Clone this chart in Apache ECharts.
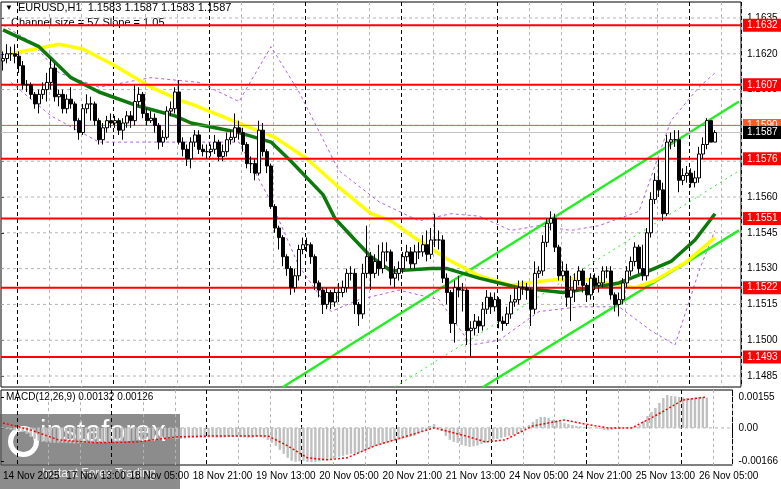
<!DOCTYPE html>
<html><head><meta charset="utf-8">
<script src="https://cdn.jsdelivr.net/npm/echarts@6/dist/echarts.min.js"></script>
<style>html,body{margin:0;padding:0;background:#fff}#c{width:781px;height:489px}</style>
</head><body><div id="c"></div>
<script>
const timeLabels=['14 Nov 2025','17 Nov 13:00','18 Nov 05:00','18 Nov 21:00','19 Nov 13:00','20 Nov 05:00','20 Nov 21:00','21 Nov 13:00','24 Nov 05:00','24 Nov 21:00','25 Nov 13:00','26 Nov 05:00'];
const priceTicks=[1.1485,1.1500,1.1515,1.1530,1.1545,1.1560,1.1575,1.1590,1.1605,1.1620,1.1635];
const macdTicks=[-0.00166,0,0.00155];
const firstOpen=1.1617;
const closes=[1.1618,1.1620,1.1620,1.1619,1.1615,1.1607,1.1607,1.1603,1.1599,1.1603,1.1605,1.1608,1.1614,1.1602,1.1603,1.1597,1.1601,1.1599,1.1592,1.1587,1.1597,1.1599,1.1599,1.1592,1.1584,1.1589,1.1592,1.1591,1.1592,1.1588,1.1591,1.1594,1.1592,1.1600,1.1603,1.1595,1.1592,1.1593,1.1590,1.1583,1.1585,1.1596,1.1597,1.1604,1.1583,1.1580,1.1576,1.1583,1.1586,1.1580,
1.1579,1.1579,1.1580,1.1583,1.1577,1.1579,1.1584,1.1585,1.1589,1.1587,1.1582,1.1574,1.1574,1.1570,1.1588,1.1579,1.1573,1.1556,1.1547,1.1543,1.1535,1.1530,1.1522,1.1527,1.1538,1.1540,1.1540,1.1535,1.1524,1.1521,1.1515,1.1520,1.1516,1.1520,1.1520,1.1522,1.1528,1.1528,1.1515,1.1511,1.1528,1.1535,1.1528,1.1533,1.1530,1.1537,1.1537,
1.1526,1.1528,1.1530,1.1535,1.1537,1.1532,1.1537,1.1537,1.1540,1.1536,1.1542,1.1542,1.1542,1.1526,1.1520,1.1507,1.1522,1.1521,1.1521,1.1504,1.1505,1.1508,1.1506,1.1513,1.1518,1.1514,1.1517,1.1508,1.1507,1.1511,1.1516,1.1517,1.1522,1.1522,1.1521,1.1513,1.1528,1.1529,1.1541,1.1549,1.1551,1.1539,1.1527,1.1529,1.1518,1.1521,1.1525,1.1529,
1.1523,1.1519,1.1526,1.1523,1.1524,1.1529,1.1529,1.1519,1.1515,1.1517,1.1524,1.1529,1.1533,1.1539,1.1530,1.1527,1.1545,1.1559,1.1567,1.1563,1.1553,1.1583,1.1584,1.1584,1.1567,1.1569,1.1570,1.1566,1.1568,1.1578,1.1582,1.1592,1.1583,1.1587];
const highs=[1.1621,1.1624,1.1623,1.1624,1.1621,1.1617,1.1609,1.1608,1.1604,1.1605,1.1608,1.1612,1.1618,1.1616,1.1605,1.1605,1.1603,1.1606,1.1600,1.1593,1.1599,1.1603,1.1602,1.1600,1.1593,1.1591,1.1594,1.1595,1.1594,1.1593,1.1593,1.1596,1.1596,1.1607,1.1606,1.1604,1.1597,1.1596,1.1595,1.1591,1.1588,1.1598,1.1600,1.1606,1.1609,1.1585,1.1582,1.1585,1.1588,1.1588,
1.1582,1.1582,1.1582,1.1586,1.1584,1.1582,1.1587,1.1588,1.1595,1.1592,1.1589,1.1583,1.1577,1.1576,1.1592,1.1591,1.1580,1.1574,1.1557,1.1548,1.1544,1.1536,1.1531,1.1530,1.1540,1.1543,1.1543,1.1541,1.1536,1.1525,1.1522,1.1522,1.1521,1.1522,1.1524,1.1525,1.1530,1.1531,1.1530,1.1516,1.1532,1.1548,1.1537,1.1536,1.1540,1.1541,1.1541,
1.1538,1.1531,1.1533,1.1537,1.1540,1.1539,1.1540,1.1541,1.1544,1.1546,1.1547,1.1553,1.1546,1.1544,1.1528,1.1521,1.1525,1.1527,1.1524,1.1522,1.1508,1.1511,1.1510,1.1516,1.1521,1.1520,1.1520,1.1518,1.1510,1.1514,1.1519,1.1522,1.1525,1.1525,1.1524,1.1522,1.1533,1.1531,1.1544,1.1551,1.1554,1.1553,1.1540,1.1533,1.1532,1.1527,1.1528,1.1531,
1.1530,1.1524,1.1528,1.1528,1.1527,1.1531,1.1531,1.1531,1.1520,1.1520,1.1526,1.1531,1.1535,1.1541,1.1540,1.1540,1.1547,1.1562,1.1570,1.1576,1.1566,1.1586,1.1587,1.1588,1.1588,1.1572,1.1573,1.1572,1.1571,1.1581,1.1585,1.1593,1.1592,1.1588];
const lows=[1.1613,1.1616,1.1617,1.1616,1.1612,1.1605,1.1604,1.1601,1.1597,1.1595,1.1601,1.1600,1.1605,1.1600,1.1598,1.1595,1.1595,1.1597,1.1588,1.1584,1.1586,1.1595,1.1592,1.1590,1.1582,1.1582,1.1587,1.1589,1.1589,1.1586,1.1584,1.1589,1.1589,1.1590,1.1598,1.1593,1.1590,1.1591,1.1587,1.1580,1.1581,1.1584,1.1594,1.1595,1.1582,1.1577,1.1573,1.1572,1.1581,1.1578,
1.1577,1.1576,1.1577,1.1578,1.1575,1.1575,1.1577,1.1582,1.1583,1.1584,1.1579,1.1572,1.1570,1.1567,1.1569,1.1577,1.1570,1.1555,1.1545,1.1538,1.1531,1.1527,1.1519,1.1520,1.1525,1.1536,1.1537,1.1532,1.1521,1.1518,1.1511,1.1513,1.1513,1.1514,1.1516,1.1518,1.1520,1.1525,1.1511,1.1506,1.1509,1.1526,1.1521,1.1526,1.1527,1.1528,1.1533,
1.1523,1.1522,1.1525,1.1528,1.1533,1.1530,1.1530,1.1534,1.1535,1.1533,1.1534,1.1539,1.1538,1.1524,1.1515,1.1503,1.1499,1.1518,1.1512,1.1498,1.1493,1.1502,1.1503,1.1504,1.1511,1.1511,1.1512,1.1505,1.1504,1.1506,1.1509,1.1514,1.1515,1.1519,1.1517,1.1506,1.1511,1.1526,1.1527,1.1539,1.1546,1.1537,1.1525,1.1525,1.1514,1.1508,1.1516,1.1523,
1.1520,1.1516,1.1517,1.1521,1.1520,1.1522,1.1526,1.1517,1.1512,1.1510,1.1515,1.1522,1.1527,1.1531,1.1528,1.1525,1.1525,1.1543,1.1557,1.1560,1.1550,1.1552,1.1580,1.1581,1.1562,1.1565,1.1566,1.1564,1.1564,1.1566,1.1576,1.1580,1.1583,1.1583];
const maGreen=[[0,1.1630],[9,1.1623],[17,1.1610],[24,1.1604],[34,1.1598],[43,1.1594],[47,1.1591],[59,1.1587],[67,1.1583],[72,1.1575],[80,1.1561],[83,1.1551],[88,1.1542],[92,1.1535],[97,1.1529],[107,1.1530],[111,1.1530],[119,1.1526],[129,1.1522],[140,1.1520],[144,1.1521],[154,1.1524],[160,1.1528],[167,1.1533],[173,1.1542],[178,1.1553]];
const maYellow=[[2,1.1620],[14,1.1624],[20,1.1622],[28,1.1615],[37,1.1606],[45,1.1600],[47,1.1599],[59,1.1591],[68,1.1585],[76,1.1576],[84,1.1564],[92,1.1553],[97,1.1550],[102,1.1544],[111,1.1534],[119,1.1527],[127,1.1523],[136,1.1525],[144,1.1526],[158,1.1522],[163,1.1525],[171,1.1533],[178,1.1543]];
const bandUpper=[[0,1.1632],[7,1.1625],[14,1.1612],[24,1.1606],[37,1.1610],[49,1.1608],[59,1.1600],[67,1.1623],[74,1.1604],[84,1.1571],[94,1.1558],[104,1.1550],[112,1.1553],[119,1.1552],[127,1.1546],[134,1.1548],[142,1.1546],[149,1.1548],[159,1.1554],[167,1.1592],[174,1.1606],[178,1.1612]];
const bandLower=[[2,1.1608],[12,1.1594],[24,1.1583],[37,1.1583],[49,1.1583],[59,1.1583],[67,1.1558],[74,1.1531],[82,1.1512],[89,1.1517],[99,1.1521],[109,1.1517],[117,1.1498],[124,1.1500],[134,1.1512],[144,1.1514],[154,1.1514],[162,1.1504],[168,1.1498],[174,1.1529],[178,1.1546]];
const channelUpper=[[70,1.14804],[184,1.1600]];
const channelMiddle=[[98,1.14804],[184,1.1571]];
const channelLower=[[120,1.14804],[184,1.1546]];
const levels=[1.1632,1.1607,1.1576,1.1551,1.1522,1.1493];
const lastHigh=1.1590, lastPrice=1.1587;
const macdHist=[-2,-5,-8,-12,-15,-20,-30,-45,-55,-65,-70,-72,-74,-75,-76,-75,-76,-77,-78,-77,-76,-75,-76,-75,-74,-75,-74,-73,-72,-72,-70,-68,-66,-64,-62,-60,-58,-60,-62,-60,-58,-56,-55,-54,-56,-55,-54,-52,-50,-50,-50,-50,-48,-48,-50,-50,-48,-46,-45,-45,-46,-48,-50,-50,-45,-45,-50,-60,-75,-90,-110,-130,-150,-165,-170,-168,-165,-170,-172,-170,-168,-165,-160,-155,-150,-145,-140,-135,-130,-128,-125,-118,-110,-100,-92,-85,-80,-75,-70,-65,-60,-55,-50,-45,-40,-30,-20,-10,10,20,5,-15,-40,-60,-70,-75,-85,-90,-95,-92,-88,-80,-75,-65,-58,-55,-50,-45,-40,-35,-30,-20,-5,15,30,45,55,55,50,40,35,30,25,20,15,10,8,5,3,0,-3,-5,-10,-12,-10,-6,-3,0,3,5,8,15,35,60,80,100,125,150,165,160,158,155,152,150,150,152,155,155,152];
const macdSignal=[[0,25],[7,-10],[14,-60],[24,-75],[34,-70],[44,-45],[54,-40],[67,-40],[72,-90],[77,-150],[82,-160],[87,-150],[94,-90],[104,-30],[109,0],[117,-40],[122,-70],[127,-60],[134,10],[142,40],[147,20],[153,0],[159,0],[164,50],[172,140],[178,155]];

const N=185;
const cats=[];for(let i=0;i<N;i++)cats.push(i%16===0&&timeLabels[i/16]?timeLabels[i/16]:'');
const ohlc=closes.map((c,i)=>{const o=i?closes[i-1]:firstOpen;return [o,c,Math.min(lows[i],o,c),Math.max(highs[i],o,c)];});
const F='Liberation Sans';
const greyDash={color:'#b4b4b4',type:[3,3],width:1};
const blackDash={color:'#000',type:[4,3],width:1};
function xa(grid,kind,labels){return {type:'category',data:cats,gridIndex:grid,boundaryGap:true,
 axisLine:{show:false},axisTick:{show:false},
 axisLabel:{show:labels,interval:0,align:'left',color:'#000',fontFamily:F,fontSize:10,margin:6},
 splitLine:{show:true,interval:kind==='g'?(i)=>i%8===4&&i%24!==4:(i)=>i%24===4,lineStyle:kind==='g'?greyDash:blackDash}};}
function fx(grid){return {type:'value',gridIndex:grid,min:0,max:1,show:false,splitLine:{show:false}};}
function hline(v,xi,yi,style,label,z){const s={type:'line',xAxisIndex:xi,yAxisIndex:yi,data:[[0,v],[1,v]],symbol:'none',silent:true,lineStyle:style,z:z||3};
 if(label)s.endLabel={show:true,formatter:v.toFixed(4),distance:2,fontFamily:F,fontSize:10,padding:[2,4,1,4],color:label.fg,backgroundColor:label.bg};return s;}
function ln(data,color,width,type){return {type:'line',xAxisIndex:0,yAxisIndex:0,data,symbol:'none',connectNulls:true,silent:true,lineStyle:{color,width,type}};}
const series=[];
priceTicks.forEach(v=>series.push(hline(v,4,0,greyDash,null,1)));
series.push(hline(0,5,1,greyDash,null,1));
series.push(ln(bandUpper,'#b060e0',1,[3,3]),ln(bandLower,'#b060e0',1,[3,3]),
  ln(channelUpper,'#22ee22',2.5,'solid'),ln(channelLower,'#22ee22',2.5,'solid'),ln(channelMiddle,'#22ee22',1,[2,4]),
  ln(maYellow,'#ffff00',3.5,'solid'),ln(maGreen,'#0b7a0b',3.5,'solid'));
series.push(hline(lastHigh,4,0,{color:'#e0602a',width:1},{fg:'#fff',bg:'#ff5a1f'},3));
series.push(hline(lastPrice,4,0,{color:'#c0c0c0',width:1},{fg:'#fff',bg:'#000'},4));
levels.forEach(v=>series.push(hline(v,4,0,{color:'#ff0000',width:2},{fg:'#fff',bg:'#ff0000'},3)));
series.push({type:'candlestick',xAxisIndex:0,yAxisIndex:0,data:ohlc,barWidth:3,silent:true,z:5,
   itemStyle:{color:'#fff',color0:'#000',borderColor:'#000',borderColor0:'#000',borderWidth:1}});
series.push({type:'bar',xAxisIndex:2,yAxisIndex:1,data:macdHist.map(v=>v/100000),barWidth:2.4,silent:true,itemStyle:{color:'#c0c0c0'}});
series.push({type:'line',xAxisIndex:2,yAxisIndex:1,data:macdSignal.map(p=>[p[0],p[1]/100000]),symbol:'none',connectNulls:true,silent:true,lineStyle:{color:'#ff0000',width:1.5,type:[2,2]}});
const chart=echarts.init(document.getElementById('c'),null,{renderer:'canvas'});
chart.setOption({animation:false,backgroundColor:'#fff',
 grid:[{left:1,right:40,top:2,height:385,show:true,borderColor:'#000',borderWidth:1,backgroundColor:'transparent'},
       {left:1,right:40,top:390,height:75,show:true,borderColor:'#000',borderWidth:1,backgroundColor:'transparent'}],
 xAxis:[xa(0,'g',false),xa(0,'b',false),xa(1,'g',true),xa(1,'b',false),fx(0),fx(1)],
 yAxis:[{type:'value',gridIndex:0,position:'right',min:1.14804,max:1.16417,scale:true,splitLine:{show:false},axisLine:{show:false},
   axisTick:{show:true,customValues:priceTicks,length:3,lineStyle:{color:'#000'}},
   axisLabel:{customValues:priceTicks,formatter:v=>v.toFixed(4),color:'#000',fontFamily:F,fontSize:10,margin:6}},
  {type:'value',gridIndex:1,position:'right',min:-0.00186,max:0.0019,splitLine:{show:false},axisLine:{show:false},
   axisTick:{show:true,customValues:macdTicks,length:3,lineStyle:{color:'#000'}},
   axisLabel:{customValues:macdTicks,formatter:v=>v===0?'0.00':v.toFixed(5),color:'#000',fontFamily:F,fontSize:10,margin:6}}],
 series,
 graphic:[
  {type:'text',left:5,top:4,style:{text:'▼',fill:'#000',font:'8px '+F}},
  {type:'text',left:18,top:2,style:{text:'EURUSD,H1  1.1583 1.1587 1.1583 1.1587',fill:'#000',font:'11px '+F}},
  {type:'text',left:11,top:17,style:{text:'Channel size = 57 Slope = 1.05',fill:'#000',font:'11px '+F}},
  {type:'text',left:6,top:392,style:{text:'MACD(12,26,9) 0.00132 0.00126',fill:'#000',font:'10px '+F}},
  {type:'rect',left:0,top:414,shape:{width:180,height:75},style:{fill:'rgba(95,95,95,0.72)'}},
  {type:'circle',left:8,top:426,shape:{r:13},style:{fill:'none',stroke:'#fff',lineWidth:5}},
  {type:'text',left:40,top:418,style:{text:'instaforex',fill:'#fff',font:'29px '+F}},
  {type:'text',left:42,top:468,style:{text:'Instant Forex Trading',fill:'#eee',font:'12px '+F}}
 ]});
</script></body></html>
